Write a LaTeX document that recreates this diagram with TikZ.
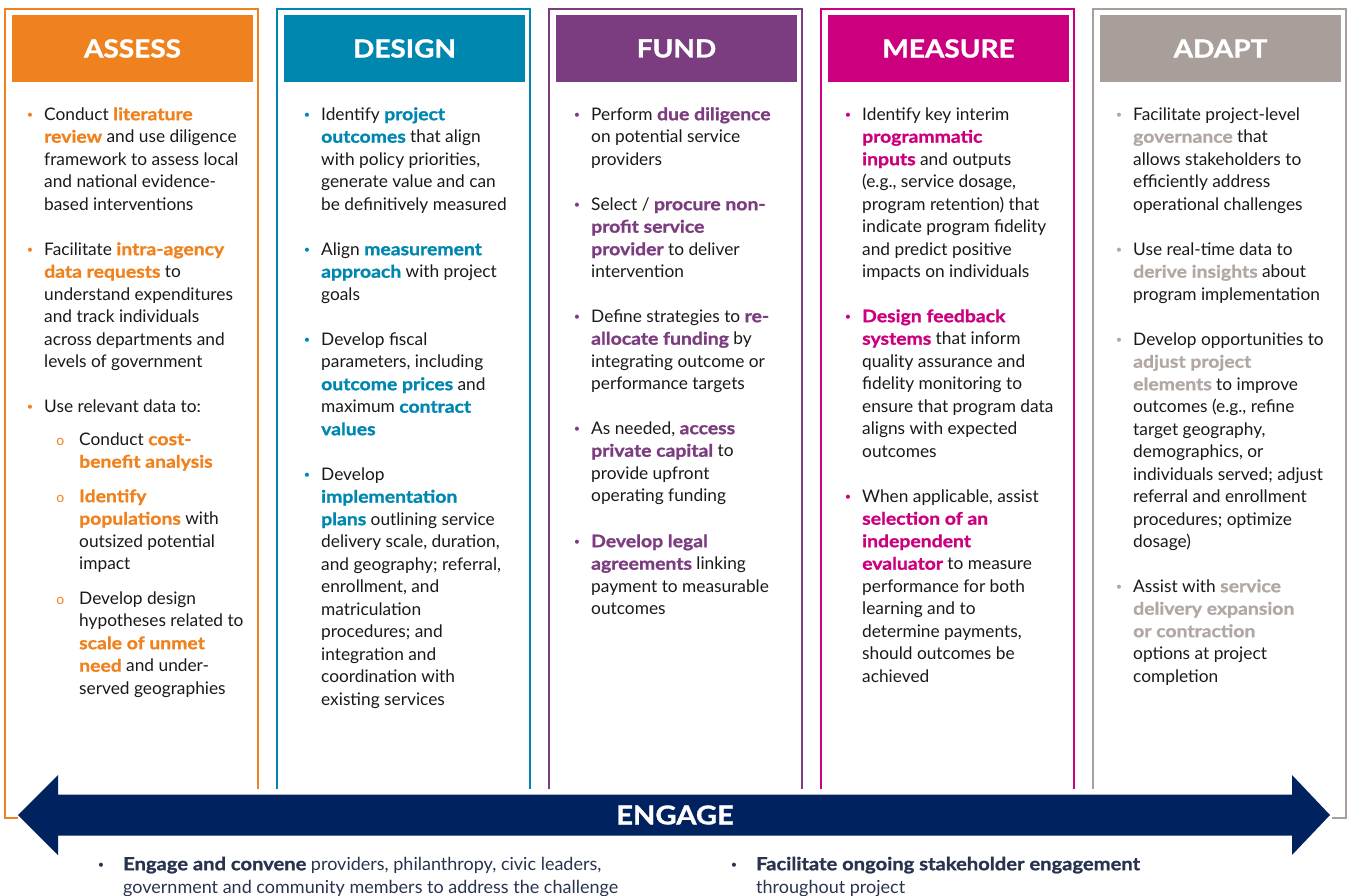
\documentclass[tikz,border=0pt]{standalone}
\usepackage{fontspec}
\setmainfont{Lato}[BoldFont={Lato Bold},BoldFeatures={FakeBold=1.2,FakeStretch=1.12}]
\usetikzlibrary{positioning,calc}
\definecolor{assessorange}{RGB}{239,130,30}
\definecolor{designblue}{RGB}{0,135,175}
\definecolor{fundpurple}{RGB}{123,61,128}
\definecolor{measurepink}{RGB}{204,0,126}
\definecolor{adaptgray}{RGB}{168,158,154}
\definecolor{adaptkw}{RGB}{178,168,163}
\definecolor{engagenavy}{RGB}{0,34,94}
\definecolor{engagetext}{RGB}{40,52,78}
\definecolor{bodytext}{RGB}{25,25,25}
\newcommand{\kw}[1]{\textbf{\textcolor{kwcolor}{#1}}}
\newcommand{\bul}{\strut\llap{\textcolor{kwcolor}{\fontsize{11}{11}\selectfont\raisebox{1.5pt}{•}}\hspace{11pt}}}
\newcommand{\subbul}{\strut\llap{\textcolor{kwcolor}{\fontsize{14}{14}\selectfont o}\hspace{15pt}}}
\newcommand{\engbul}{\strut\llap{\textcolor{kwcolor}{\fontsize{11}{11}\selectfont\raisebox{1.5pt}{•}}\hspace{19pt}}}
\tikzset{
  phaseframe/.style={line width=2.8pt,draw=#1},
  phasehead/.style={fill=#1,text=white,minimum width=241pt,minimum height=67pt,inner sep=0pt,
    font=\bfseries\fontsize{25}{28}\selectfont},
  bultext/.style={anchor=north west,yshift=15.75pt,align=left,inner sep=0pt,text=bodytext,
    font=\fontsize{17.3}{22.5}\selectfont,execute at begin node={\colorlet{kwcolor}{#1}}},
  engagetxt/.style={anchor=north west,yshift=16.1pt,align=left,inner sep=0pt,text=engagetext,
    font=\fontsize{18}{23}\selectfont,execute at begin node={\colorlet{kwcolor}{engagetext}}}
}
\begin{document}
\begin{tikzpicture}[x=1pt,y=-1pt]
  \useasboundingbox (0,0) rectangle (1352,896);
  % column frames, open at the bottom
  \foreach \cx/\col in {5/assessorange,277/designblue,549/fundpurple,821/measurepink,1093/adaptgray}
    \draw[phaseframe=\col] (\cx,789) -- (\cx,9) -- (\cx+253,9) -- (\cx+253,789);
  \draw[phaseframe=assessorange] (5,789) -- (5,818) -- (18,818);
  \draw[phaseframe=adaptgray] (1346,789) -- (1346,818) -- (1332,818);
  % headers
  \node[phasehead=assessorange] (hassess) at (132.5,48.5) {ASSESS};
  \node[phasehead=designblue] (hdesign) at (404.5,48.5) {DESIGN};
  \node[phasehead=fundpurple] (hfund) at (676.5,48.5) {FUND};
  \node[phasehead=measurepink] (hmeasure) at (948.5,48.5) {MEASURE};
  \node[phasehead=adaptgray] (hadapt) at (1220.5,48.5) {ADAPT};

  % assess
  \node[bultext=assessorange] (a1) at (44,120) {\bul Conduct \kw{literature}\\ \kw{review} and use diligence\\ framework to assess local\\ and national evidence-\\ based interventions};
  \node[bultext=assessorange] (a2) at (44,255) {\bul Facilitate \kw{intra-agency}\\ \kw{data requests} to\\ understand expenditures\\ and track individuals\\ across departments and\\ levels of government};
  \node[bultext=assessorange] (a3) at (44,412) {\bul Use relevant data to:};
  \node[bultext=assessorange] (a4) at (79,445) {\subbul Conduct \kw{cost-}\\ \kw{benefit analysis}};
  \node[bultext=assessorange] (a5) at (79,502) {\subbul\kw{Identify}\\ \kw{populations} with\\ outsized potential\\ impact};
  \node[bultext=assessorange] (a6) at (79,604) {\subbul Develop design\\ hypotheses related to\\ \kw{scale of unmet}\\ \kw{need} and under-\\ served geographies};

  % design
  \node[bultext=designblue] (d1) at (321,120) {\bul Identify \kw{project}\\ \kw{outcomes} that align\\ with policy priorities,\\ generate value and can\\ be definitively measured};
  \node[bultext=designblue] (d2) at (321,255) {\bul Align \kw{measurement}\\ \kw{approach} with project\\ goals};
  \node[bultext=designblue] (d3) at (321,345) {\bul Develop fiscal\\ parameters, including\\ \kw{outcome prices} and\\ maximum \kw{contract}\\ \kw{values}};
  \node[bultext=designblue] (d4) at (321,480) {\bul Develop\\ \kw{implementation}\\ \kw{plans} outlining service\\ delivery scale, duration,\\ and geography; referral,\\ enrollment, and\\ matriculation\\ procedures; and\\ integration and\\ coordination with\\ existing services};

  % fund
  \node[bultext=fundpurple] (f1) at (591,120) {\bul Perform \kw{due diligence}\\ on potential service\\ providers};
  \node[bultext=fundpurple] (f2) at (591,210) {\bul Select / \kw{procure non-}\\ \kw{profit service}\\ \kw{provider} to deliver\\ intervention};
  \node[bultext=fundpurple] (f3) at (591,322) {\bul Define strategies to \kw{re-}\\ \kw{allocate funding} by\\ integrating outcome or\\ performance targets};
  \node[bultext=fundpurple] (f4) at (591,434) {\bul As needed, \kw{access}\\ \kw{private capital} to\\ provide upfront\\ operating funding};
  \node[bultext=fundpurple] (f5) at (591,547) {\bul\kw{Develop legal}\\ \kw{agreements} linking\\ payment to measurable\\ outcomes};

  % measure
  \node[bultext=measurepink] (m1) at (862,120) {\bul Identify key interim\\ \kw{programmatic}\\ \kw{inputs} and outputs\\ (e.g., service dosage,\\ program retention) that\\ indicate program fidelity\\ and predict positive\\ impacts on individuals};
  \node[bultext=measurepink] (m2) at (862,322) {\bul\kw{Design feedback}\\ \kw{systems} that inform\\ quality assurance and\\ fidelity monitoring to\\ ensure that program data\\ aligns with expected\\ outcomes};
  \node[bultext=measurepink] (m3) at (862,502) {\bul When applicable, assist\\ \kw{selection of an}\\ \kw{independent}\\ \kw{evaluator} to measure\\ performance for both\\ learning and to\\ determine payments,\\ should outcomes be\\ achieved};

  % adapt
  \node[bultext=adaptkw] (p1) at (1133,120) {\bul Facilitate project-level\\ \kw{governance} that\\ allows stakeholders to\\ efficiently address\\ operational challenges};
  \node[bultext=adaptkw] (p2) at (1133,255) {\bul Use real-time data to\\ \kw{derive insights} about\\ program implementation};
  \node[bultext=adaptkw] (p3) at (1133,345) {\bul Develop opportunities to\\ \kw{adjust project}\\ \kw{elements} to improve\\ outcomes (e.g., refine\\ target geography,\\ demographics, or\\ individuals served; adjust\\ referral and enrollment\\ procedures; optimize\\ dosage)};
  \node[bultext=adaptkw] (p4) at (1133,592) {\bul Assist with \kw{service}\\ \kw{delivery expansion}\\ \kw{or contraction}\\ options at project\\ completion};

  % engage arrow
  \fill[engagenavy] (18,815) -- (58,775) -- (58,794.5) -- (1292,794.5) -- (1292,775)
    -- (1330,815) -- (1292,855) -- (1292,835.5) -- (58,835.5) -- (58,855) -- cycle;
  \node[text=white,font=\bfseries\fontsize{26}{28}\selectfont] (engage) at (675,815) {ENGAGE};
  \node[engagetxt] (e1) at (123,870) {\engbul\textbf{Engage and convene} providers, philanthropy, civic leaders,\\ government and community members to address the challenge};
  \node[engagetxt] (e2) at (756,870) {\engbul\textbf{Facilitate ongoing stakeholder engagement}\\ throughout project};
\end{tikzpicture}
\end{document}
